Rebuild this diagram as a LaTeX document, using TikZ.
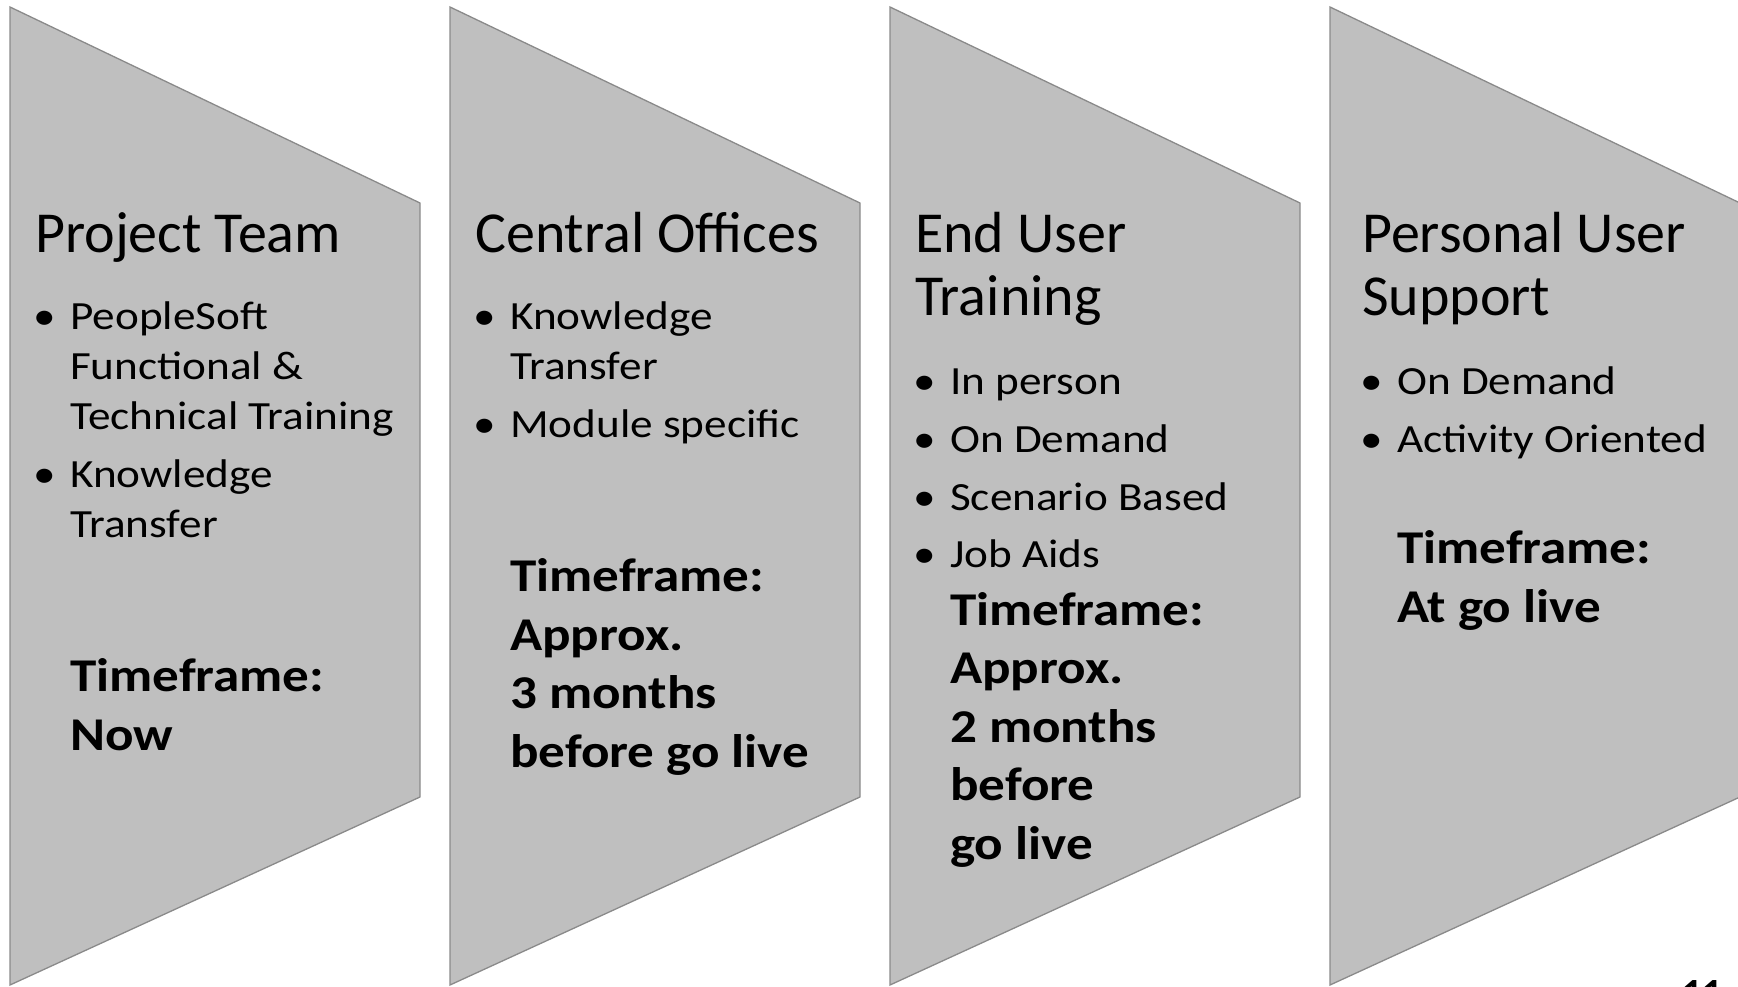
\documentclass[tikz,border=0pt]{standalone}
\usepackage{fontspec}
\setmainfont{Carlito}
\newfontfamily\widefont[FakeStretch=1.13]{Carlito}

\definecolor{stagefill}{RGB}{191,191,191}
\definecolor{stageline}{RGB}{138,138,138}

\newcommand{\stagebullet}{\llap{\textbullet\hspace{14pt}}}

\tikzset{
  stage/.style={fill=stagefill, draw=stageline, line width=1.3pt},
  stagetitle/.style={anchor=base west, inner sep=0pt, align=left, font=\fontsize{58}{64}\selectfont},
  stageitem/.style={anchor=base west, inner sep=0pt, align=left, font=\widefont\fontsize{40}{50}\selectfont},
  stagetime/.style={anchor=base west, inner sep=0pt, align=left, font=\widefont\fontsize{47}{58.5}\selectfont\bfseries},
}

\begin{document}
\begin{tikzpicture}[x=1pt, y=-1pt]
    \useasboundingbox (0,0) rectangle (1738,987);
    \clip (0,0) rectangle (1738,987);

    % Etapas
    \foreach \x in {10,450,890,1330}
        \draw[stage] (\x,7) -- ++(410,196) -- ++(0,594) -- (\x,985) -- cycle;

    % Project Team (y = Grundlinie der letzten Zeile)
    \node[stagetitle] (title1) at (35,252) {Project Team};
    \node[stageitem] (item11) at (70,429) {\stagebullet PeopleSoft\\Functional \&\\Technical Training};
    \node[stageitem] (item12) at (70,537) {\stagebullet Knowledge\\Transfer};
    \node[stagetime] (time1) at (70,750) {Timeframe:\\Now};

    % Central Offices
    \node[stagetitle] (title2) at (475,252) {Central Offices};
    \node[stageitem] (item21) at (510,379) {\stagebullet Knowledge\\Transfer};
    \node[stageitem] (item22) at (510,437) {\stagebullet Module specific};
    \node[stagetime] (time2) at (510,767) {Timeframe:\\Approx.\\3 months\\before go live};

    % End User Training
    \node[stagetitle] (title3) at (915,316) {End User\\Training};
    \node[stageitem] (item31) at (950,394) {\stagebullet In person};
    \node[stageitem] (item32) at (950,452) {\stagebullet On Demand};
    \node[stageitem] (item33) at (950,510) {\stagebullet Scenario Based};
    \node[stageitem] (item34) at (950,567) {\stagebullet Job Aids};
    \node[stagetime] (time3) at (950,859) {Timeframe:\\Approx.\\2 months\\before\\go live};

    % Personal User Support
    \node[stagetitle] (title4) at (1362,316) {Personal User\\Support};
    \node[stageitem] (item41) at (1397,394) {\stagebullet On Demand};
    \node[stageitem] (item42) at (1397,452) {\stagebullet Activity Oriented};
    \node[stagetime] (time4) at (1397,622) {Timeframe:\\At go live};

    % Seitennummer
    \node[anchor=north west, inner sep=0pt, font=\fontsize{40}{40}\selectfont\bfseries] (pagenum) at (1682,980) {11};
\end{tikzpicture}
\end{document}
